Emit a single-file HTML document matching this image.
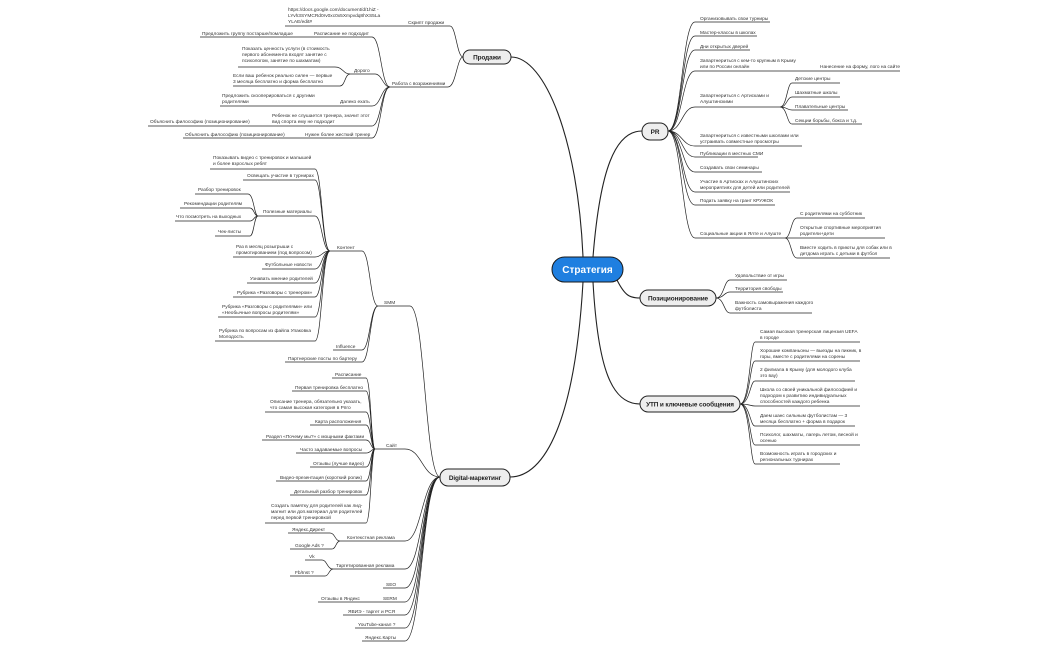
<!DOCTYPE html>
<html><head><meta charset="utf-8"><style>
html,body{margin:0;padding:0;background:#fff;width:1050px;height:650px;overflow:hidden}
svg{display:block}
text{font-family:"Liberation Sans","DejaVu Sans",sans-serif;font-size:4.8px;fill:#333}
.n{font-size:6.4px;font-weight:bold;fill:#222;letter-spacing:-0.1px}
.c{font-size:10px;font-weight:bold;fill:#fff}
path{fill:none;stroke:#222;stroke-width:0.7}
.m{stroke-width:1.1}
</style></head><body>
<svg width="1050" height="650" viewBox="0 0 1050 650">
<path class="m" d="M583 257 C578 140 545 57 511 57"/>
<path class="m" d="M593 257 C600 170 615 131 642 131"/>
<path class="m" d="M617 280 C625 296 630 298 640 298"/>
<path class="m" d="M593 282 C598 370 612 404 640 404"/>
<path class="m" d="M583 282 C575 420 545 477 510 477"/>

<path d="M285 26 H450 C456 26 457 57 463 57"/>
<path d="M390 87 H448 C456 87 457 57 463 57"/>
<path d="M200 37 H372 C381 37 381 87 390 87"/>
<path d="M350 74 H375 C382 74 383 87 390 87"/>
<path d="M238 67 H335 C343 67 343 74 350 74"/>
<path d="M233 86 H340 C345 86 345 74 350 74"/>
<path d="M220 106 H372 C381 106 381 87 390 87"/>
<path d="M148 126 H372 C381 126 381 87 390 87"/>
<path d="M183 138 H372 C381 138 381 87 390 87"/>
<text x="288" y="11">https://docs.google.com/document/d/1hiZ -</text>
<text x="288" y="17">LYvh3SYMCRd0rv0xc0x5Xmpvdq8hXS5La</text>
<text x="288" y="23">YLAE/edit#</text>
<text x="408" y="24">Скрипт продажи</text>
<text x="392" y="85">Работа с возражениями</text>
<text x="202" y="35">Предложить группу постарше/помладше</text>
<text x="314" y="35">Расписание не подходит</text>
<text x="242" y="50">Показать ценность услуги (в стоимость</text>
<text x="242" y="56">первого абонемента входят занятие с</text>
<text x="242" y="62">психологом, занятие по шахматам)</text>
<text x="354" y="72">Дорого</text>
<text x="233" y="77">Если ваш ребенок реально силен — первые</text>
<text x="233" y="83">3 месяца бесплатно и форма бесплатно</text>
<text x="222" y="97">Предложить скооперироваться с другими</text>
<text x="222" y="103">родителями</text>
<text x="340" y="103">Далеко ехать</text>
<text x="272" y="117">Ребенок не слушается тренера, значит этот</text>
<text x="272" y="123">вид спорта ему не подходит</text>
<text x="150" y="123">Объяснить философию (позиционирование)</text>
<text x="185" y="136">Объяснить философию (позиционирование)</text>
<text x="305" y="136">Нужен более жесткий тренер</text>
<rect x="463" y="50" width="48" height="14" rx="7" fill="#eee" stroke="#222" stroke-width="1"/>
<text class="n" x="487" y="59.3" text-anchor="middle">Продажи</text>

<path d="M378 306 H410 C425 306 425 477 440 477"/>
<path d="M375 449 H405 C422 449 422 477 440 477"/>
<path d="M340 541 H405 C422 541 422 477 440 477"/>
<path d="M333 569 H405 C422 569 422 477 440 477"/>
<path d="M383 588 H405 C422 588 422 477 440 477"/>
<path d="M318 602 H405 C422 602 422 477 440 477"/>
<path d="M343 615 H405 C422 615 422 477 440 477"/>
<path d="M355 628 H405 C422 628 422 477 440 477"/>
<path d="M362 641 H405 C422 641 422 477 440 477"/>
<text x="384" y="304">SMM</text>
<text x="386" y="447">Сайт</text>
<text x="347" y="539">Контекстная реклама</text>
<text x="336" y="567">Таргетированная реклама</text>
<text x="386" y="586">SEO</text>
<text x="383" y="600">SERM</text>
<text x="321" y="600">Отзывы в Яндекс</text>
<text x="348" y="613">ЯВИЭ - таргет и РСЯ</text>
<text x="358" y="626">YouTube-канал ?</text>
<text x="365" y="639">Яндекс.Карты</text>
<path d="M330 251 H362 C370 251 370 306 378 306"/>
<path d="M333 350 H362 C370 350 370 306 378 306"/>
<path d="M285 362 H362 C370 362 370 306 378 306"/>
<text x="337" y="249">Контент</text>
<text x="336" y="348">Influence</text>
<text x="288" y="360">Партнерские посты по бартеру</text>
<path d="M210 169 H315 C322 169 322 251 330 251"/>
<path d="M243 180 H315 C322 180 322 251 330 251"/>
<path d="M258 216 H315 C322 216 322 251 330 251"/>
<path d="M233 257 H315 C322 257 322 251 330 251"/>
<path d="M262 269 H315 C322 269 322 251 330 251"/>
<path d="M247 283 H315 C322 283 322 251 330 251"/>
<path d="M233 297 H315 C322 297 322 251 330 251"/>
<path d="M218 317 H315 C322 317 322 251 330 251"/>
<path d="M215 341 H315 C322 341 322 251 330 251"/>
<text x="213" y="159">Показывать видео с тренировок и малышей</text>
<text x="213" y="165">и более взрослых ребят</text>
<text x="247" y="177">Освещать участие в турнирах</text>
<text x="263" y="213">Полезные материалы</text>
<text x="236" y="248">Раз в месяц розыгрыши с</text>
<text x="236" y="254">промотированием (под вопросом)</text>
<text x="265" y="266">Футбольные новости</text>
<text x="250" y="280">Узнавать мнение родителей</text>
<text x="237" y="294">Рубрика «Разговоры с тренером»</text>
<text x="222" y="308">Рубрика «Разговоры с родителями» или</text>
<text x="222" y="314">«Необычные вопросы родителям»</text>
<text x="219" y="332">Рубрика по вопросам из файла Упаковка</text>
<text x="219" y="338">Молодость</text>
<path d="M195 194 H248 C254 194 254 216 258 216"/>
<path d="M180 208 H250 C254 208 254 216 258 216"/>
<path d="M175 221 H250 C254 221 254 216 258 216"/>
<path d="M215 236 H250 C254 236 254 216 258 216"/>
<text x="198" y="191">Разбор тренировок</text>
<text x="184" y="205">Рекомендации родителям</text>
<text x="176" y="218">Что посмотреть на выходных</text>
<text x="218" y="233">Чек-листы</text>
<path d="M332 378 H366 C371 378 371 449 375 449"/>
<path d="M292 391 H366 C371 391 371 449 375 449"/>
<path d="M265 412 H366 C371 412 371 449 375 449"/>
<path d="M310 425 H366 C371 425 371 449 375 449"/>
<path d="M262 440 H366 C371 440 371 449 375 449"/>
<path d="M296 453 H366 C371 453 371 449 375 449"/>
<path d="M310 467 H366 C371 467 371 449 375 449"/>
<path d="M276 481 H366 C371 481 371 449 375 449"/>
<path d="M290 495 H366 C371 495 371 449 375 449"/>
<path d="M265 523 H366 C371 523 371 449 375 449"/>
<text x="335" y="376">Расписание</text>
<text x="295" y="389">Первая тренировка бесплатно</text>
<text x="270" y="403">Описание тренера, обязательно указать,</text>
<text x="270" y="409">что самая высокая категория в Рпго</text>
<text x="315" y="423">Карта расположения</text>
<text x="266" y="438">Раздел «Почему мы?» с мощными фактами</text>
<text x="300" y="451">Часто задаваемые вопросы</text>
<text x="313" y="465">Отзывы (лучше видео)</text>
<text x="280" y="479">Видео-презентация (короткий ролик)</text>
<text x="294" y="493">Детальный разбор тренировок</text>
<text x="271" y="507">Создать памятку для родителей как лид-</text>
<text x="271" y="513">магнит или доп.материал для родителей</text>
<text x="271" y="519">перед первой тренировкой</text>
<path d="M288 533 H330 C335 533 335 541 340 541"/>
<path d="M290 549 H332 C336 549 336 541 340 541"/>
<path d="M305 560 H322 C327 560 327 569 333 569"/>
<path d="M290 576 H325 C329 576 329 569 333 569"/>
<text x="292" y="531">Яндекс.Директ</text>
<text x="295" y="547">Google Ads ?</text>
<text x="309" y="558">Vk</text>
<text x="295" y="574">Fb/Inst ?</text>
<rect x="440" y="469" width="70" height="17" rx="8" fill="#eee" stroke="#222" stroke-width="1"/>
<text class="n" x="475" y="479.8" text-anchor="middle">Digital-маркетинг</text>

<path d="M668 131 C682 131 682 22 695 22 H770"/>
<path d="M668 131 C682 131 682 36 695 36 H757"/>
<path d="M668 131 C682 131 682 50 695 50 H750"/>
<path d="M668 131 C682 131 682 71 695 71 H900"/>
<path d="M668 131 C682 131 682 107 695 107 H780"/>
<path d="M668 131 C682 131 682 146 695 146 H802"/>
<path d="M668 131 C682 131 682 157 695 157 H758"/>
<path d="M668 131 C682 131 682 172 695 172 H762"/>
<path d="M668 131 C682 131 682 192 695 192 H790"/>
<path d="M668 131 C682 131 682 205 695 205 H775"/>
<path d="M668 131 C682 131 682 238 695 238 H785"/>
<text x="700" y="20">Организовывать свои турниры</text>
<text x="700" y="34">Мастер-классы в школах</text>
<text x="700" y="48">Дни открытых дверей</text>
<text x="700" y="62">Запартнериться с кем-то крупным в Крыму</text>
<text x="700" y="68">или по России онлайн</text>
<text x="820" y="68">Нанесение на форму, лого на сайте</text>
<text x="700" y="97">Запартнериться с Артисками и</text>
<text x="700" y="103">Алуштинскими</text>
<text x="700" y="137">Запартнериться с известными школами или</text>
<text x="700" y="143">устраивать совместные просмотры</text>
<text x="700" y="155">Публикации в местных СМИ</text>
<text x="700" y="169">Создавать свои семинары</text>
<text x="700" y="183">Участие в Артисках и Алуштинских</text>
<text x="700" y="189">мероприятиях для детей или родителей</text>
<text x="700" y="202">Подать заявку на грант КРУЖОК</text>
<text x="700" y="235">Социальные акции в Ялте и Алуште</text>
<path d="M780 107 C787 107 787 83 792 83 H840"/>
<path d="M780 107 C787 107 787 97 792 97 H840"/>
<path d="M780 107 C787 107 787 110 792 110 H848"/>
<path d="M780 107 C787 107 787 124 792 124 H862"/>
<text x="795" y="80">Детские центры</text>
<text x="795" y="94">Шахматные школы</text>
<text x="795" y="108">Плавательные центры</text>
<text x="795" y="122">Секции борьбы, бокса и т.д.</text>
<path d="M785 238 C791 238 791 218 797 218 H865"/>
<path d="M785 238 C791 238 791 238 797 238 H885"/>
<path d="M785 238 C791 238 791 258 797 258 H890"/>
<text x="800" y="215">С родителями на субботник</text>
<text x="800" y="229">Открытые спортивные мероприятия</text>
<text x="800" y="235">родители+дети</text>
<text x="800" y="249">Вместе ходить в приюты для собак или в</text>
<text x="800" y="255">детдома играть с детьми в футбол</text>
<rect x="642" y="123" width="26" height="17" rx="8" fill="#eee" stroke="#222" stroke-width="1"/>
<text class="n" x="655" y="133.8" text-anchor="middle">PR</text>

<path d="M716 298 C724 298 724 280 730 280 H787"/>
<path d="M716 298 C724 298 724 292 730 292 H783"/>
<path d="M716 298 C724 298 724 313 730 313 H812"/>
<text x="735" y="277">Удовольствие от игры</text>
<text x="735" y="290">Территория свободы</text>
<text x="735" y="304">Важность самовыражения каждого</text>
<text x="735" y="310">футболиста</text>
<rect x="640" y="290" width="76" height="16" rx="8" fill="#eee" stroke="#222" stroke-width="1"/>
<text class="n" x="678" y="300.3" text-anchor="middle">Позиционирование</text>

<path d="M740 404 C750 404 750 342 755 342 H860"/>
<path d="M740 404 C750 404 750 361 755 361 H860"/>
<path d="M740 404 C750 404 750 381 755 381 H855"/>
<path d="M740 404 C750 404 750 406 755 406 H860"/>
<path d="M740 404 C750 404 750 426 755 426 H855"/>
<path d="M740 404 C750 404 750 445 755 445 H860"/>
<path d="M740 404 C750 404 750 464 755 464 H840"/>
<text x="760" y="333">Самая высокая тренерская лицензия UEFA</text>
<text x="760" y="339">в городе</text>
<text x="760" y="352">Хорошие компаньоны — выезды на пикник, в</text>
<text x="760" y="358">горы, вместе с родителями на сорены</text>
<text x="760" y="371">2 филиала в Крыму (для молодого клуба</text>
<text x="760" y="377">это вау)</text>
<text x="760" y="391">Школа со своей уникальной философией и</text>
<text x="760" y="397">подходом к развитию индивидуальных</text>
<text x="760" y="403">способностей каждого ребенка</text>
<text x="760" y="417">Даем шанс сильным футболистам — 3</text>
<text x="760" y="423">месяца бесплатно + форма в подарок</text>
<text x="760" y="436">Психолог, шахматы, лагерь летом, весной и</text>
<text x="760" y="442">осенью</text>
<text x="760" y="455">Возможность играть в городских и</text>
<text x="760" y="461">региональных турнирах</text>
<rect x="640" y="396" width="100" height="16" rx="8" fill="#eee" stroke="#222" stroke-width="1"/>
<text class="n" x="690" y="406.3" text-anchor="middle">УТП и ключевые сообщения</text>

<rect x="552" y="257" width="71" height="25" rx="12.5" fill="#1f7fe0" stroke="#1a1a1a" stroke-width="1"/>
<text class="c" x="587.5" y="273" text-anchor="middle">Стратегия</text>
</svg>
</body></html>
